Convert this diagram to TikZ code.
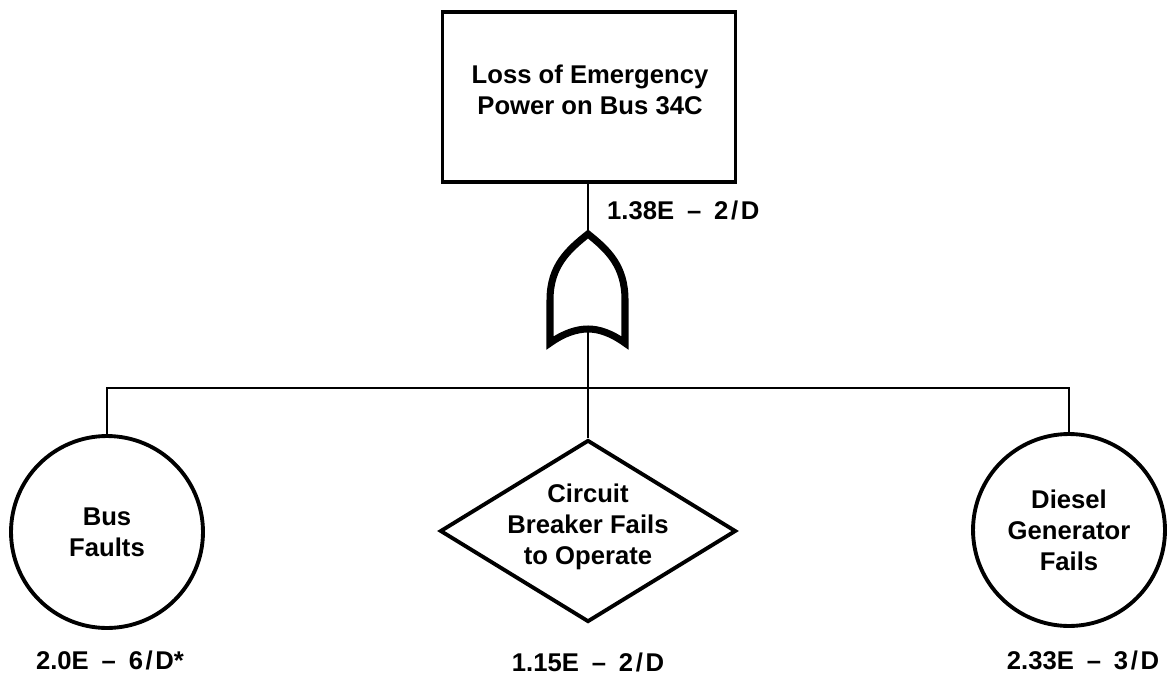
\documentclass[tikz,border=0pt]{standalone}
\usepackage{fontspec}
\setmainfont{Liberation Sans}
\usetikzlibrary{shapes.geometric}

\newcommand{\freq}[3]{#1\hspace{.5em}–\hspace{.5em}#2\kern1.5pt/\kern1.5pt#3}

\tikzset{
	txt/.style={font=\bfseries\fontsize{14.6pt}{17.7pt}\selectfont, align=center},
	evt/.style={txt, draw, line width=2.2pt, inner sep=0pt},
	wire/.style={line width=1.3pt},
}

\begin{document}
\begin{tikzpicture}[x=0.02cm, y=-0.02cm]
		\useasboundingbox (0,0) rectangle (1168,676);

		% top event
		\node[evt, rectangle, minimum width=5.86cm, minimum height=3.4cm] (top) at (589,97) {};
		\node[txt] (topt) at (590,90) {Loss of Emergency\\Power on Bus 34C};
		\node[txt, anchor=west] (ptop) at (601,210) {\freq{1.38E}{2}{D}};

		% or gate
		\coordinate (gout) at (588,234);
		\coordinate (gin) at (588,329);
		\draw[line width=4pt, line join=miter] (550,343) -- (550,300)
			.. controls (550,266) and (568,250) .. (gout)
			.. controls (608,250) and (625,266) .. (625,300) -- (625,343)
			.. controls (611,333) and (599,329) .. (gin)
			.. controls (577,329) and (564,333) .. cycle;

		% basic events
		\node[evt, circle, minimum size=3.84cm] (bus) at (107,532) {Bus\\Faults};
		\node[evt, diamond, minimum width=5.92cm, minimum height=3.64cm] (cb) at (588,531) {};
		\node[txt] (cbt) at (588,527) {Circuit\\Breaker Fails\\to Operate};
		\node[evt, circle, minimum size=3.84cm] (dg) at (1069,530) {Diesel\\Generator\\Fails};

		\node[txt] (pbus) at (110,660) {\freq{2.0E}{6}{D*}};
		\node[txt] (pcb) at (588,662) {\freq{1.15E}{2}{D}};
		\node[txt] (pdg) at (1083,660) {\freq{2.33E}{3}{D}};

		% connectors
		\coordinate (j) at (588,388);
		\draw[wire] (top.south -| gout) -- (gout);
		\draw[wire] (gin) -- (cb.north);
		\draw[wire] (bus.north) |- (j) -| (dg.north);

	\end{tikzpicture}
\end{document}
